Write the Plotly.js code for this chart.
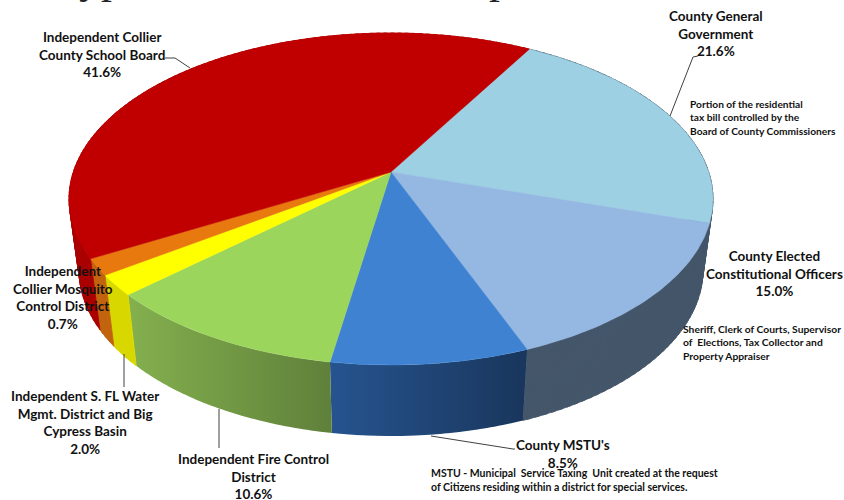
<!DOCTYPE html>
<html><head><meta charset="utf-8">
<script src="https://cdn.plot.ly/plotly-3.0.1.min.js"></script>
<style>html,body{margin:0;padding:0;background:#fff;overflow:hidden}#c{width:844px;height:500px}</style>
</head><body><div id="c"></div>
<script>
// ---- data (clockwise from the County General Government slice) ----
var categories = [
  "County General<br>Government",
  "County Elected<br>Constitutional Officers",
  "County MSTU's",
  "Independent Fire Control<br>District",
  "Independent S. FL Water<br>Mgmt. District and Big<br>Cypress Basin",
  "Independent<br>Collier Mosquito<br>Control District",
  "Independent Collier<br>County School Board"
];
// percentages as printed on the chart
var printedPercent = [21.6, 15.0, 8.5, 10.6, 2.0, 0.7, 41.6];
// slice sizes as actually drawn in the picture (measured from the wedge angles)
var drawnShare = [21.6, 14.2, 8.5, 10.6, 2.0, 1.6, 41.5];
var notes = [
  "Portion of the residential<br>tax bill controlled by the<br>Board of County Commissioners",
  "Sheriff, Clerk of Courts, Supervisor<br>of  Elections, Tax Collector and<br>Property Appraiser",
  "MSTU - Municipal  Service Taxing  Unit created at the request<br>of Citizens residing within a district for special services."
];

// ---- styles ----
var topColors = ["#9dd0e2","#95b8e3","#3f82d2","#9bd55c","#ffff00","#e8790f","#c00000"];
var sideColors = [["#44566a","#44566a"],["#44566a","#44566a"],["#26548f","#19365c"],["#84b04e","#5f803a"],
                  ["#d8d800","#d8d800"],["#c2640e","#c2640e"],["#aa0000","#aa0000"]];

// ---- projection of the tilted pie ----
var CX=391, AY=172, S=317.7, T=161.6, K=0.1627, START=29.8;
var TOP_EY=199, TOP_A=322, BOT_EY=270, BOT_A=312;
function topPt(deg){var r=deg*Math.PI/180,u=Math.sin(r),v=Math.cos(r),d=1+K*v;return [CX+S*u/d, AY-T*v/d];}
function botPt(deg){var p=topPt(deg);return [CX+(p[0]-CX)*BOT_A/TOP_A, BOT_EY+(p[1]-TOP_EY)];}

var total=drawnShare.reduce(function(a,b){return a+b;},0);
var sides=[], tops=[], ang=START;
drawnShare.forEach(function(v,i){
  var a0=ang, a1=ang+v/total*360; ang=a1;
  var sx=[],sy=[],tx=[CX],ty=[AY],n=Math.max(2,Math.ceil((a1-a0)/1.5)),j;
  for(j=0;j<n;j++){
    var p=a0+(a1-a0)*j/n, q=a0+(a1-a0)*Math.min(n,j+1.5)/n;
    var A=topPt(p),B=topPt(q),C=botPt(q),D=botPt(p);
    sx.push(A[0],B[0],C[0],D[0],A[0],null); sy.push(A[1],B[1],C[1],D[1],A[1],null);
  }
  for(j=0;j<=n*2;j++){var e=topPt(a0+(a1-a0)*j/(n*2));tx.push(e[0]);ty.push(e[1]);}
  tx.push(CX);ty.push(AY);
  var st={x:sx,y:sy,mode:"lines",fill:"toself",line:{width:0},hoverinfo:"skip",showlegend:false,connectgaps:false};
  if(sideColors[i][0]===sideColors[i][1]){st.fillcolor=sideColors[i][0];st.line={width:0.8,color:sideColors[i][0]};}
  else{st.fillgradient={type:"horizontal",colorscale:[[0,sideColors[i][0]],[1,sideColors[i][1]]]};}
  sides.push(st);
  tops.push({x:tx,y:ty,mode:"lines",fill:"toself",fillcolor:topColors[i],line:{width:0.5,color:topColors[i]},hoverinfo:"skip",showlegend:false});
});

// ---- leaders ----
var leaders=[[[165,58],[175,58],[190,68]],[[698,56],[693,57],[670,116]],[[515,449],[513,449],[431,436]],[[219,409],[219,448]],[[124,354],[124,387]]];
var leaderTraces=leaders.map(function(l){return {x:l.map(function(p){return p[0];}),y:l.map(function(p){return p[1];}),mode:"lines",line:{color:"#404040",width:1},hoverinfo:"skip",showlegend:false};});

// ---- text placement ----
var labelPos=[[716,33.5],[774.5,273],[563,453.5],[253,476],[85,422.7],[63,297],[102,54]];
var notePos=[[689,117.5],[682,342.5],[430,480]];
var noteSize=[10.2,10.3,10.5];
var FONT="Lato, 'Noto Sans', sans-serif";
var ann=categories.map(function(c,i){
  return {x:labelPos[i][0],y:labelPos[i][1],xref:"x",yref:"y",xanchor:"center",yanchor:"middle",align:"center",showarrow:false,borderpad:0,
    text:"<b>"+c+"<br>"+printedPercent[i].toFixed(1)+"%</b>",font:{family:FONT,size:13.5,color:"#111"}};
});
notes.forEach(function(t,i){
  ann.push({x:notePos[i][0],y:notePos[i][1],xref:"x",yref:"y",xanchor:"left",yanchor:"middle",align:"left",showarrow:false,borderpad:0,
    text:"<b>"+t+"</b>",font:{family:FONT,size:noteSize[i],color:"#111"}});
});
// descenders of the cropped title that remain visible at the very top
[["yp",101],["p",500]].forEach(function(t){
  ann.push({x:t[1],y:4,xref:"x",yref:"y",xanchor:"center",yanchor:"bottom",showarrow:false,borderpad:0,
    text:t[0],font:{family:"'Liberation Serif',serif",size:44,color:"#222"}});
});

Plotly.newPlot("c",sides.concat(tops,leaderTraces),{
  width:844,height:500,margin:{l:0,r:0,t:0,b:0},paper_bgcolor:"#fff",plot_bgcolor:"#fff",showlegend:false,hovermode:false,
  xaxis:{range:[0,844],visible:false,fixedrange:true},
  yaxis:{range:[500,0],visible:false,fixedrange:true},
  annotations:ann
},{displayModeBar:false,staticPlot:true});
</script></body></html>
